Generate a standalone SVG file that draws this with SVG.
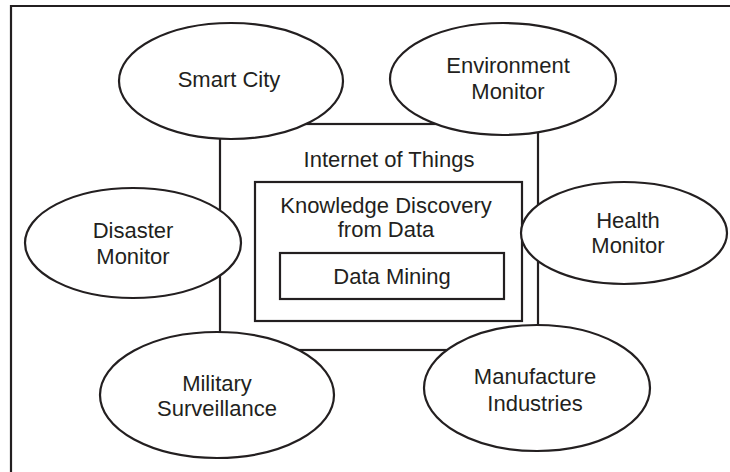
<svg xmlns="http://www.w3.org/2000/svg" width="730" height="472" viewBox="0 0 730 472">
  <style>
    .shape { fill: #ffffff; stroke: #231f20; stroke-width: 2.2; }
    .box { fill: none; stroke: #231f20; stroke-width: 2.2; }
    .line { fill: none; stroke: #231f20; stroke-width: 2.2; }
    text { font-family: "Liberation Sans", Arial, sans-serif; font-size: 22px; fill: #231f20; text-anchor: middle; }
  </style>
  <rect width="730" height="472" fill="#ffffff"/>

  <!-- frame (top and left edges) -->
  <path class="line" d="M11,472 V6 H730"/>

  <!-- nested boxes -->
  <g id="iot">
    <rect class="box" x="220" y="124" width="318" height="226"/>
    <text x="389" y="167">Internet of Things</text>
  </g>
  <g id="kdd">
    <rect class="box" x="255" y="182" width="267" height="139"/>
    <text x="386" y="213">Knowledge Discovery</text>
    <text x="386" y="237">from Data</text>
  </g>
  <g id="data-mining">
    <rect class="box" x="280" y="253" width="224" height="46"/>
    <text x="392" y="284">Data Mining</text>
  </g>

  <!-- application ellipses -->
  <g id="smart-city">
    <ellipse class="shape" cx="231" cy="81" rx="112" ry="58"/>
    <text x="229" y="87">Smart City</text>
  </g>
  <g id="environment-monitor">
    <ellipse class="shape" cx="503" cy="79" rx="113" ry="56"/>
    <text x="508" y="73">Environment</text>
    <text x="508" y="99">Monitor</text>
  </g>
  <g id="disaster-monitor">
    <ellipse class="shape" cx="133" cy="243" rx="108" ry="55"/>
    <text x="133" y="238">Disaster</text>
    <text x="133" y="264">Monitor</text>
  </g>
  <g id="health-monitor">
    <ellipse class="shape" cx="624" cy="233" rx="103" ry="51"/>
    <text x="628" y="228">Health</text>
    <text x="628" y="253">Monitor</text>
  </g>
  <g id="military-surveillance">
    <ellipse class="shape" cx="217" cy="395" rx="117" ry="63"/>
    <text x="217" y="391">Military</text>
    <text x="217" y="416">Surveillance</text>
  </g>
  <g id="manufacture-industries">
    <ellipse class="shape" cx="537" cy="388" rx="113" ry="63"/>
    <text x="535" y="384">Manufacture</text>
    <text x="535" y="411">Industries</text>
  </g>
</svg>
